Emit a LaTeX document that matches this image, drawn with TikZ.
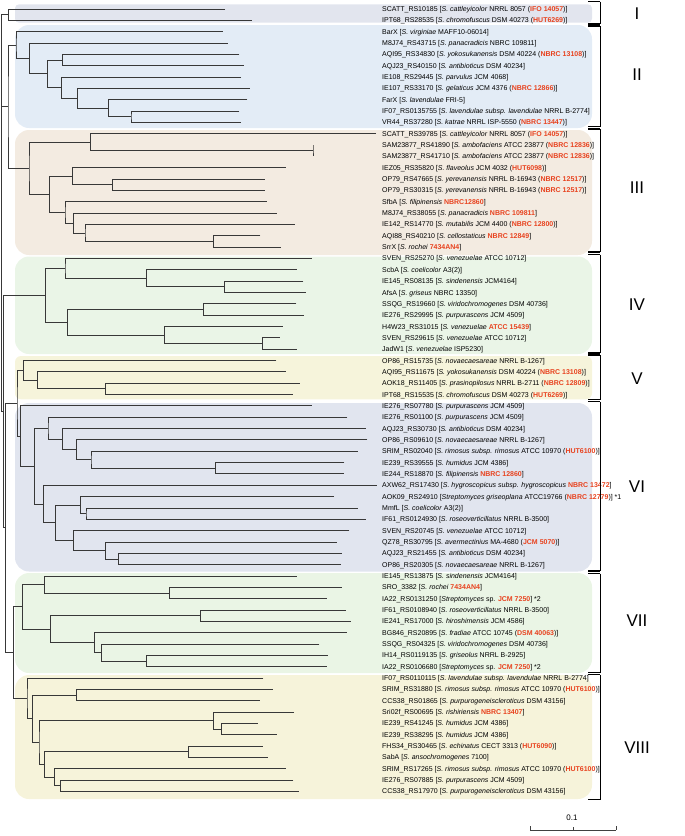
\documentclass[tikz,border=0pt]{standalone}
\usepackage{fontspec}
\setmainfont{Liberation Sans}
\usetikzlibrary{calc}
\definecolor{org}{RGB}{232,66,30}
\definecolor{bI}{RGB}{226,229,238}
\definecolor{bII}{RGB}{227,236,246}
\definecolor{bIII}{RGB}{243,235,225}
\definecolor{bIV}{RGB}{234,245,231}
\definecolor{bV}{RGB}{246,244,219}
\definecolor{bVI}{RGB}{225,229,239}
\definecolor{bVII}{RGB}{234,245,229}
\definecolor{bVIII}{RGB}{246,243,218}
\newcommand\rd[1]{\textcolor{org}{\bfseries #1}}
\newcommand\jn[4]{%
  \coordinate (#1m) at ($(#3)!0.5!(#4)$);
  \coordinate (#1) at (#2,0 |- #1m);
  \draw[br] (#3) -| (#1) |- (#4);
}
\newcommand\lf[3]{%
  \pgfmathsetmacro\yy{9+11.34*#1}
  \coordinate (L#1) at (#2,\yy);
  \node[lab] (T#1) at (382,\yy) {#3};
}
\begin{document}
\begin{tikzpicture}[x=1pt,y=-1pt,
  br/.style={draw=black!78,line width=0.9pt,line join=miter},
  lab/.style={font=\fontsize{7.0}{8}\selectfont,anchor=west,inner sep=0pt,text height=5pt,text depth=0pt},
  grp/.style={rounded corners=14pt},
  num/.style={font=\fontsize{17}{19}\selectfont,inner sep=0pt},
  brk/.style={draw=black,line width=0.7pt},
  tick/.style={draw=black,line width=1.8pt}]
\useasboundingbox (0,0) rectangle (685,836);
% group boxes
\fill[bI,rounded corners=4pt] (15,4.3) rectangle (592,22.7);
\fill[bII,grp] (15,25) rectangle (592,128);
\fill[bIII,grp] (15,130) rectangle (592,255);
\fill[bIV,grp] (15,256.5) rectangle (592,354);
\fill[bV,rounded corners=6pt] (15,356) rectangle (592,399.3);
\fill[bVI,grp] (15,403) rectangle (592,571.5);
\fill[bVII,grp] (15,573) rectangle (592,673);
\fill[bVIII,grp] (15,675) rectangle (592,799);
% leaves
\lf{0}{225}{SCATT\_RS10185 [\textit{S. cattleyicolor} NRRL 8057 (\rd{IFO 14057})]}
\lf{1}{251.7}{IPT68\_RS28535 [\textit{S. chromofuscus} DSM 40273 (\rd{HUT6269})]}
\lf{2}{222.7}{BarX [\textit{S. virginiae} MAFF10-06014]}
\lf{3}{227.7}{M8J74\_RS43715 [\textit{S. panacradicis} NBRC 109811]}
\lf{4}{239.3}{AQI95\_RS34830 [\textit{S. yokosukanensis} DSM 40224 (\rd{NBRC 13108})]}
\lf{5}{244.3}{AQJ23\_RS40150 [\textit{S. antibioticus} DSM 40234]}
\lf{6}{241}{IE108\_RS29445 [\textit{S. parvulus} JCM 4068]}
\lf{7}{249.7}{IE107\_RS33170 [\textit{S. gelaticus} JCM 4376 (\rd{NBRC 12866})]}
\lf{8}{247.3}{FarX [\textit{S. lavendulae} FRI-5]}
\lf{9}{239.3}{IF07\_RS0135755 [\textit{S. lavendulae subsp. lavendulae} NRRL B-2774]}
\lf{10}{241}{VR44\_RS37280 [\textit{S. katrae} NRRL ISP-5550 (\rd{NBRC 13447})]}
\lf{11}{376}{SCATT\_RS39785 [\textit{S. cattleyicolor} NRRL 8057 (\rd{IFO 14057})]}
\lf{12}{313}{SAM23877\_RS41890 [\textit{S. ambofaciens} ATCC 23877 (\rd{NBRC 12836})]}
\lf{13}{313}{SAM23877\_RS41710 [\textit{S. ambofaciens} ATCC 23877 (\rd{NBRC 12836})]}
\lf{14}{285.7}{IEZ05\_RS35820 [\textit{S. flaveolus} JCM 4032 (\rd{HUT6098})]}
\lf{15}{264.7}{OP79\_RS47665 [\textit{S. yerevanensis} NRRL B-16943 (\rd{NBRC 12517})]}
\lf{16}{265}{OP79\_RS30315 [\textit{S. yerevanensis} NRRL B-16943 (\rd{NBRC 12517})]}
\lf{17}{266.7}{SfbA [\textit{S. filipinensis} \rd{NBRC12860}]}
\lf{18}{276.7}{M8J74\_RS38055 [\textit{S. panacradicis} \rd{NBRC 109811}]}
\lf{19}{294.7}{IE142\_RS14770 [\textit{S. mutabilis} JCM 4400 (\rd{NBRC 12800})]}
\lf{20}{260.3}{AQI88\_RS40210 [\textit{S. cellostaticus} \rd{NBRC 12849}]}
\lf{21}{281}{SrrX [\textit{S. rochei} \rd{7434AN4}]}
\lf{22}{311.7}{SVEN\_RS25270 [\textit{S. venezuelae} ATCC 10712]}
\lf{23}{296.7}{ScbA [\textit{S. coelicolor} A3(2)]}
\lf{24}{303.3}{IE145\_RS08135 [\textit{S. sindenensis} JCM4164]}
\lf{25}{305.7}{AfsA [\textit{S. griseus} NBRC 13350]}
\lf{26}{296.3}{SSQG\_RS19660 [\textit{S. viridochromogenes} DSM 40736]}
\lf{27}{304.3}{IE276\_RS29995 [\textit{S. purpurascens} JCM 4509]}
\lf{28}{282.7}{H4W23\_RS31015 [\textit{S. venezuelae} \rd{ATCC 15439}]}
\lf{29}{279.7}{SVEN\_RS29615 [\textit{S. venezuelae} ATCC 10712]}
\lf{30}{296.7}{JadW1 [\textit{S. venezuelae} ISP5230]}
\lf{31}{276.3}{OP86\_RS15735 [\textit{S. novaecaesareae} NRRL B-1267]}
\lf{32}{285.7}{AQI95\_RS11675 [\textit{S. yokosukanensis} DSM 40224 (\rd{NBRC 13108})]}
\lf{33}{299.7}{AOK18\_RS11405 [\textit{S. prasinopilosus} NRRL B-2711 (\rd{NBRC 12809})]}
\lf{34}{293.3}{IPT68\_RS15535 [\textit{S. chromofuscus} DSM 40273 (\rd{HUT6269})]}
\lf{35}{311.7}{IE276\_RS07780 [\textit{S. purpurascens} JCM 4509]}
\lf{36}{347.3}{IE276\_RS01100 [\textit{S. purpurascens} JCM 4509]}
\lf{37}{365.7}{AQJ23\_RS30730 [\textit{S. antibioticus} DSM 40234]}
\lf{38}{367.3}{OP86\_RS09610 [\textit{S. novaecaesareae} NRRL B-1267]}
\lf{39}{357.7}{SRIM\_RS02040 [\textit{S. rimosus subsp. rimosus} ATCC 10970 (\rd{HUT6100})]}
\lf{40}{344.3}{IE239\_RS39555 [\textit{S. humidus} JCM 4386]}
\lf{41}{344.3}{IE244\_RS18870 [\textit{S. filipinensis} \rd{NBRC 12860}]}
\lf{42}{376.7}{AXW62\_RS17430 [\textit{S. hygroscopicus subsp. hygroscopicus} \rd{NBRC 13472}]}
\lf{43}{334}{AOK09\_RS24910 [\textit{Streptomyces griseoplana} ATCC19766 (\rd{NBRC 12779})] *1}
\lf{44}{357.7}{MmfL [\textit{S. coelicolor} A3(2)]}
\lf{45}{366}{IF61\_RS0124930 [\textit{S. roseoverticillatus} NRRL B-3500]}
\lf{46}{349.3}{SVEN\_RS20745 [\textit{S. venezuelae} ATCC 10712]}
\lf{47}{336.7}{QZ78\_RS30795 [\textit{S. avermectinius} MA-4680 (\rd{JCM 5070})]}
\lf{48}{341.7}{AQJ23\_RS21455 [\textit{S. antibioticus} DSM 40234]}
\lf{49}{340.7}{OP86\_RS20305 [\textit{S. novaecaesareae} NRRL B-1267]}
\lf{50}{296.7}{IE145\_RS13875 [\textit{S. sindenensis} JCM4164]}
\lf{51}{341.7}{SRO\_3382 [\textit{S. rochei} \rd{7434AN4}]}
\lf{52}{327.3}{IA22\_RS0131250 [\textit{Streptomyces} sp. \rd{JCM 7250}] *2}
\lf{53}{345.7}{IF61\_RS0108940 [\textit{S. roseoverticillatus} NRRL B-3500]}
\lf{54}{351}{IE241\_RS17000 [\textit{S. hiroshimensis} JCM 4586]}
\lf{55}{346.7}{BG846\_RS20895 [\textit{S. fradiae} ATCC 10745 (\rd{DSM 40063})]}
\lf{56}{319.3}{SSQG\_RS04325 [\textit{S. viridochromogenes} DSM 40736]}
\lf{57}{327.7}{IH14\_RS0119135 [\textit{S. griseolus} NRRL B-2925]}
\lf{58}{326.7}{IA22\_RS0106680 [\textit{Streptomyces} sp. \rd{JCM 7250}] *2}
\lf{59}{263.3}{IF07\_RS0110115 [\textit{S. lavendulae subsp. lavendulae} NRRL B-2774]}
\lf{60}{272.7}{SRIM\_RS31880 [\textit{S. rimosus subsp. rimosus} ATCC 10970 (\rd{HUT6100})]}
\lf{61}{260}{CCS38\_RS01865 [\textit{S. purpurogeneiscleroticus} DSM 43156]}
\lf{62}{294}{Sri02f\_RS00695 [\textit{S. rishiriensis} \rd{NBRC 13407}]}
\lf{63}{257.7}{IE239\_RS41245 [\textit{S. humidus} JCM 4386]}
\lf{64}{276.7}{IE239\_RS38295 [\textit{S. humidus} JCM 4386]}
\lf{65}{262.7}{FHS34\_RS30465 [\textit{S. echinatus} CECT 3313 (\rd{HUT6090})]}
\lf{66}{268.3}{SabA [\textit{S. ansochromogenes} 7100]}
\lf{67}{285.7}{SRIM\_RS17265 [\textit{S. rimosus subsp. rimosus} ATCC 10970 (\rd{HUT6100})]}
\lf{68}{293.3}{IE276\_RS07885 [\textit{S. purpurascens} JCM 4509]}
\lf{69}{298.7}{CCS38\_RS17970 [\textit{S. purpurogeneiscleroticus} DSM 43156]}
% clade I
\jn{c1}{8.3}{L0}{L1}
% clade II
\jn{a9}{131}{L9}{L10}
\jn{a8}{108.7}{L8}{a9}
\jn{a7}{77.3}{L7}{a8}
\jn{a6}{61.3}{L6}{a7}
\jn{a45}{62.7}{L4}{L5}
\jn{a4}{47.3}{a45}{a6}
\jn{a3}{29.7}{L3}{a4}
\jn{c2}{16}{L2}{a3}
% clade III
\jn{b1}{313}{L12}{L13}
\jn{b0}{90.3}{L11}{b1}
\jn{b3}{112.7}{L15}{L16}
\jn{b2}{72.3}{L14}{b3}
\jn{b8}{213.3}{L20}{L21}
\jn{b7}{85}{L19}{b8}
\jn{b6}{73.7}{L18}{b7}
\jn{b5}{65}{L17}{b6}
\jn{b4}{49.7}{b2}{b5}
\jn{c3}{29}{b0}{b4}
\jn{c23}{8}{c2}{c3}
% clade IV
\jn{d2}{224.7}{L24}{L25}
\jn{d1}{146.3}{L23}{d2}
\jn{d0}{65}{L22}{d1}
\jn{d3}{203.7}{L26}{L27}
\jn{d5}{262.7}{L29}{L30}
\jn{d4}{164.3}{L28}{d5}
\jn{d6}{67.7}{d3}{d4}
\jn{c4}{45.3}{d0}{d6}
% clade V
\jn{e1}{105.3}{L33}{L34}
\jn{e0}{37.7}{L32}{e1}
\jn{c5}{23.3}{L31}{e0}
% clade VI
\jn{f5}{215.7}{L40}{L41}
\jn{f4}{91}{L39}{f5}
\jn{f3}{76.7}{L38}{f4}
\jn{f2}{62.7}{L37}{f3}
\jn{f1}{48}{L36}{f2}
\jn{f8}{86}{L44}{L45}
\jn{f7}{80.3}{L43}{f8}
\jn{f11}{118.7}{L48}{L49}
\jn{f10}{105.3}{L47}{f11}
\jn{f9}{73.3}{L46}{f10}
\jn{f6}{55.3}{f7}{f9}
\jn{f12}{43.3}{L42}{f6}
\jn{f0}{34.3}{f1}{f12}
\jn{c6}{20.7}{L35}{f0}
\jn{c56}{17}{c5}{c6}
% clade VII
\jn{g1}{169.3}{L51}{L52}
\jn{g0}{44.3}{L50}{g1}
\jn{g3}{200.3}{L53}{L54}
\jn{g6}{146.3}{L57}{L58}
\jn{g5}{101.3}{L56}{g6}
\jn{g4}{94.3}{L55}{g5}
\jn{g2}{50.3}{g3}{g4}
\jn{c7}{22.3}{g0}{g2}
% clade VIII
\jn{h1}{76.3}{L60}{L61}
\jn{h4}{221.3}{L63}{L64}
\jn{h3}{213.3}{L62}{h4}
\jn{h6}{188.3}{L65}{L66}
\jn{h8}{60.3}{L68}{L69}
\jn{h7}{54.3}{L67}{h8}
\jn{h5}{44.3}{h6}{h7}
\jn{h2}{39}{h3}{h5}
\jn{h0}{32.3}{h1}{h2}
\jn{c8}{27}{L59}{h0}
\jn{c78}{13.3}{c7}{c8}
\jn{r2}{5.7}{c56}{c78}
\jn{r1}{3.3}{c4}{r2}
% root
\coordinate (root) at (1.7,213);
\draw[br] (c1) -| (root) |- (r1);
\draw[br] (root |- c23) -- (c23);
% brackets and numerals
\foreach \t/\b/\n/\ny in {1.5/24/I/14, 26/126.5/II/75, 129/252/III/188, 254.5/353/IV/305, 355/399.5/V/379, 401.5/571/VI/487, 573.5/672.5/VII/621, 674.5/799.5/VIII/748}{
  \draw[brk] (600,\t) -- (600,\b);
  \draw[tick] (588,\t) -- (600.4,\t);
  \draw[tick] (588,\b) -- (600.4,\b);
  \node[num] (N\n) at (637,\ny) {\n};
}
% scale bar
\coordinate (s0) at (530,830);
\coordinate (s1) at (616,830);
\draw[draw=black!75,line width=0.8pt] (s0) -- (s1);
\draw[draw=black!75,line width=0.8pt] (s0) -- ++(0,-4) (s1) -- ++(0,-4) (573,830) -- ++(0,-3);
\node[font=\fontsize{8}{9}\selectfont,inner sep=0pt] (sl) at (572,818) {0.1};
\end{tikzpicture}
\end{document}
